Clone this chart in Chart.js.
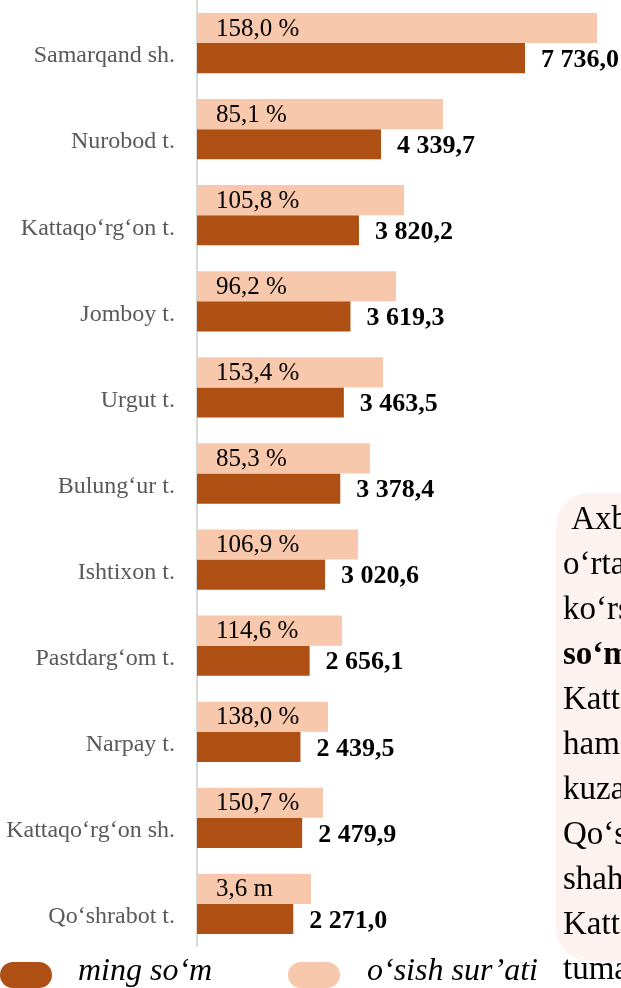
<!DOCTYPE html>
<html>
<head>
<meta charset="utf-8">
<script src="https://cdn.jsdelivr.net/npm/chart.js@4"></script>
<style>
  html, body { margin: 0; padding: 0; background: #fff; overflow: hidden; }
  body { width: 621px; height: 988px; position: relative; font-family: "Liberation Serif", serif; }
  #wrap { position: absolute; left: 0; top: 0; width: 621px; height: 947px; }
  .note-bg { position: absolute; left: 556px; top: 493px; width: 90px; height: 468px; background: #fcf3f0; border-radius: 34px 0 0 34px; }
  .note { position: absolute; left: 563px; top: 496px; font-size: 33px; line-height: 45px; white-space: nowrap; color: #000; }
  .legend { position: absolute; left: 0; top: 950px; width: 621px; height: 40px; }
  .legend .box { position: absolute; top: 12px; width: 52px; height: 26px; border-radius: 13px; }
  .legend .txt { position: absolute; top: 1px; font-size: 32px; font-style: italic; }
</style>
</head>
<body>
<div id="wrap"><canvas id="bar"></canvas></div>
<div class="note-bg"></div>
<div class="note">
  &nbsp;Axborot<br>o‘rtacha<br>ko‘rsatkichi<br><b>so‘mni</b><br>Kattaqo‘rg‘on<br>hamda<br>kuzatildi<br>Qo‘shrabot<br>shahri<br>Kattaqo‘rg‘on<br>tumani
</div>
<div class="legend" id="legend"></div>
<script>
  // hududlar (yuqoridan pastga)
  const hududlar = [
    "Samarqand sh.", "Nurobod t.", "Kattaqo‘rg‘on t.", "Jomboy t.", "Urgut t.",
    "Bulung‘ur t.", "Ishtixon t.", "Pastdarg‘om t.", "Narpay t.",
    "Kattaqo‘rg‘on sh.", "Qo‘shrabot t."
  ];

  // ming so'm
  const mingSom = [7736.0, 4339.7, 3820.2, 3619.3, 3463.5, 3378.4, 3020.6, 2656.1, 2439.5, 2479.9, 2271.0];

  // o'sish sur'ati: yozuvlar va ustun uzunligi (rasmdan o'qilgan)
  const osishYozuv = ["158,0 %", "85,1 %", "105,8 %", "96,2 %", "153,4 %", "85,3 %", "106,9 %", "114,6 %", "138,0 %", "150,7 %", "3,6 m"];
  const osishUstun = [9434, 5802, 4882, 4693, 4387, 4080, 3797, 3420, 3090, 2972, 2689];

  const xMax = 10000;

  const rangJigar = "#ae4f14";
  const rangShaftoli = "#f7c8ab";

  const fmt = (v) => {
    const [butun, kasr] = v.toFixed(1).split(".");
    return butun.replace(/\B(?=(\d{3})+(?!\d))/g, " ") + "," + kasr;
  };

  const barLabels = {
    id: "barLabels",
    afterDatasetsDraw(chart) {
      const ctx = chart.ctx;
      ctx.save();
      ctx.textAlign = "left";
      ctx.textBaseline = "middle";
      ctx.fillStyle = "#000";

      ctx.font = '25px "Liberation Serif"';
      chart.getDatasetMeta(0).data.forEach((bar, i) => {
        ctx.fillText(osishYozuv[i], bar.base + 19, bar.y + 1);
      });

      ctx.font = 'bold 26px "Liberation Serif"';
      chart.getDatasetMeta(1).data.forEach((bar, i) => {
        ctx.fillText(fmt(mingSom[i]), bar.x + 16, bar.y + 2);
      });
      ctx.restore();
    },
  };

  new Chart(document.getElementById("bar"), {
    type: "bar",
    data: {
      labels: hududlar,
      datasets: [
        {
          label: "o‘sish sur’ati",
          data: osishUstun,
          backgroundColor: rangShaftoli,
        },
        {
          label: "ming so‘m",
          data: mingSom,
          backgroundColor: rangJigar,
        },
      ],
    },
    options: {
      indexAxis: "y",
      responsive: true,
      maintainAspectRatio: false,
      animation: false,
      layout: { padding: 0 },
      datasets: {
        bar: { categoryPercentage: 0.7, barPercentage: 1.0 },
      },
      plugins: {
        legend: { display: false },
        tooltip: { enabled: false },
      },
      scales: {
        x: { display: false, min: 0, max: xMax },
        y: {
          grid: { display: false, drawTicks: false },
          border: { display: true, color: "#d9d9d9", width: 2 },
          ticks: {
            color: "#595959",
            padding: 22,
            labelOffset: 13,
            font: { family: "Liberation Serif", size: 24 },
          },
          afterFit(scale) {
            scale.width = 197;
            scale.paddingTop = 0;
            scale.paddingBottom = 0;
          },
        },
      },
    },
    plugins: [barLabels],
  });

  // legend: ming so'm birinchi
  const legendItems = [
    { text: "ming so‘m", color: rangJigar, box: 0, label: 78 },
    { text: "o‘sish sur’ati", color: rangShaftoli, box: 288, label: 367 },
  ];
  const legend = document.getElementById("legend");
  legendItems.forEach((it) => {
    legend.insertAdjacentHTML(
      "beforeend",
      `<span class="box" style="left:${it.box}px;background:${it.color}"></span>` +
        `<span class="txt" style="left:${it.label}px">${it.text}</span>`
    );
  });
</script>
</body>
</html>
